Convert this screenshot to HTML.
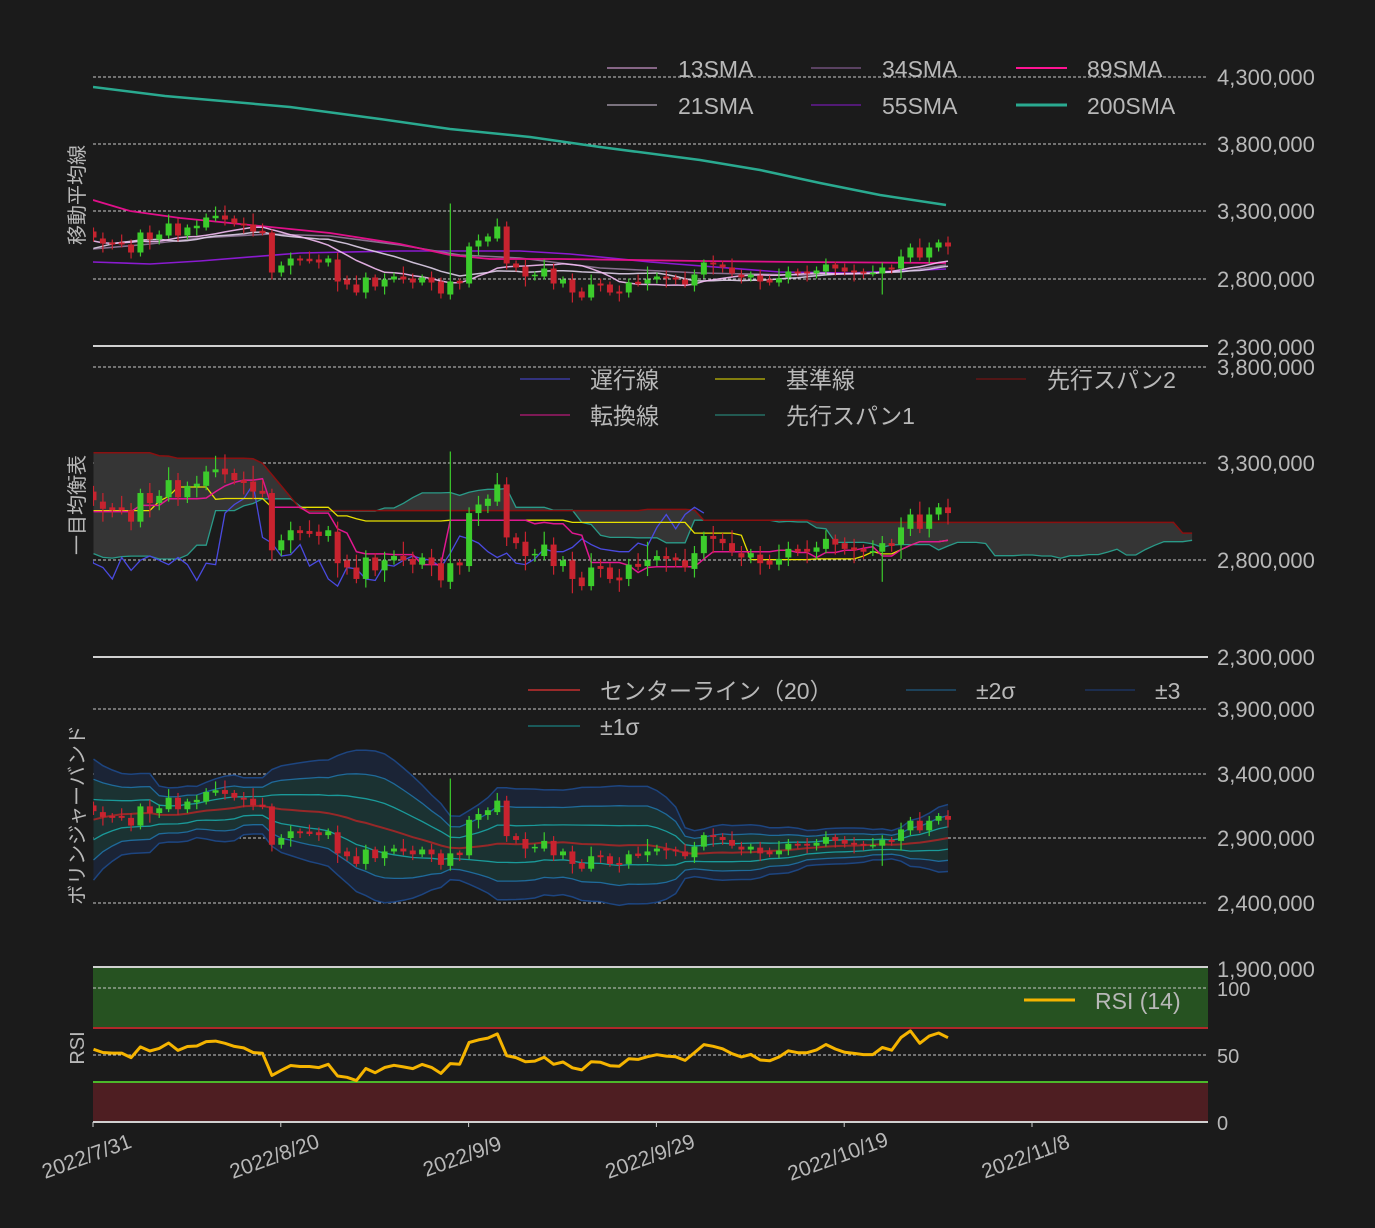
<!DOCTYPE html>
<html><head><meta charset="utf-8">
<style>
html,body{margin:0;padding:0;background:#1b1b1b;}
svg{display:block;}
text{font-family:"Liberation Sans","Noto Sans CJK JP",sans-serif;fill:#b8b8b8;}
</style></head>
<body>
<svg id="s" width="1375" height="1228" xmlns="http://www.w3.org/2000/svg">
<rect width="1375" height="1228" fill="#1b1b1b"/>
<defs>
<clipPath id="c1"><rect x="93" y="40" width="1115" height="306"/></clipPath>
<clipPath id="c2"><rect x="93" y="360" width="1115" height="297"/></clipPath>
<clipPath id="c3"><rect x="93" y="670" width="1115" height="298"/></clipPath>
<clipPath id="c4"><rect x="93" y="967" width="1115" height="155"/></clipPath>
</defs>
<rect x="93" y="967" width="1115" height="61" fill="#265221"/>
<rect x="93" y="1082" width="1115" height="40" fill="#4e1e22"/>
<line x1="93" y1="1028" x2="1208" y2="1028" stroke="#b0282a" stroke-width="2"/>
<line x1="93" y1="1082" x2="1208" y2="1082" stroke="#4cb82a" stroke-width="2"/>
<g id="grid" stroke="#c8c8c8" stroke-width="1" stroke-dasharray="3,2">
<line x1="93" y1="77" x2="1208" y2="77"/><line x1="93" y1="144" x2="1208" y2="144"/><line x1="93" y1="211" x2="1208" y2="211"/><line x1="93" y1="279" x2="1208" y2="279"/>
<line x1="93" y1="367" x2="1208" y2="367"/><line x1="93" y1="463" x2="1208" y2="463"/><line x1="93" y1="560" x2="1208" y2="560"/>
<line x1="93" y1="709" x2="1208" y2="709"/><line x1="93" y1="774" x2="1208" y2="774"/><line x1="93" y1="838" x2="1208" y2="838"/><line x1="93" y1="903" x2="1208" y2="903"/>
<line x1="93" y1="988" x2="1208" y2="988"/><line x1="93" y1="1055" x2="1208" y2="1055"/>
</g>
<g id="plot"></g>
<g stroke="#d0d0d0" stroke-width="2">
<line x1="93" y1="346" x2="1208" y2="346"/>
<line x1="93" y1="657" x2="1208" y2="657"/>
<line x1="93" y1="967" x2="1208" y2="967"/>
<line x1="93" y1="1122" x2="1208" y2="1122"/>
</g>
<g font-size="22">
<text x="1217" y="85">4,300,000</text><text x="1217" y="152">3,800,000</text><text x="1217" y="219">3,300,000</text><text x="1217" y="287">2,800,000</text><text x="1217" y="355">2,300,000</text>
<text x="1217" y="375">3,800,000</text><text x="1217" y="471">3,300,000</text><text x="1217" y="568">2,800,000</text><text x="1217" y="665">2,300,000</text>
<text x="1217" y="717">3,900,000</text><text x="1217" y="782">3,400,000</text><text x="1217" y="846">2,900,000</text><text x="1217" y="911">2,400,000</text><text x="1217" y="977">1,900,000</text>
<text x="1217" y="996" font-size="20">100</text><text x="1217" y="1063" font-size="20">50</text><text x="1217" y="1130" font-size="20">0</text>
</g>
<g font-size="20">
<text transform="translate(84,195) rotate(-90)" text-anchor="middle">移動平均線</text>
<text transform="translate(84,505) rotate(-90)" text-anchor="middle">一目均衡表</text>
<text transform="translate(84,815) rotate(-90)" text-anchor="middle">ボリンジャーバンド</text>
<text transform="translate(84,1048) rotate(-90)" text-anchor="middle">RSI</text>
</g>
<g font-size="23">
<line x1="607" y1="68" x2="657" y2="68" stroke="#f0b0f0"/><text x="678" y="77">13SMA</text>
<line x1="811" y1="68" x2="861" y2="68" stroke="#9a6aa8"/><text x="882" y="77">34SMA</text>
<line x1="1016" y1="68" x2="1067" y2="68" stroke="#ff1493" stroke-width="2"/><text x="1087" y="77">89SMA</text>
<line x1="607" y1="105" x2="657" y2="105" stroke="#d8c8e0"/><text x="678" y="114">21SMA</text>
<line x1="811" y1="105" x2="861" y2="105" stroke="#8a1ad0"/><text x="882" y="114">55SMA</text>
<line x1="1016" y1="105" x2="1067" y2="105" stroke="#2aaa90" stroke-width="3"/><text x="1087" y="114">200SMA</text>

<line x1="520" y1="379" x2="570" y2="379" stroke="#4a4ae0"/><text x="590" y="388">遅行線</text>
<line x1="715" y1="379" x2="765" y2="379" stroke="#e8e000"/><text x="786" y="388">基準線</text>
<line x1="976" y1="379" x2="1026" y2="379" stroke="#8a1010"/><text x="1047" y="388">先行スパン2</text>
<line x1="520" y1="415" x2="570" y2="415" stroke="#e01890"/><text x="590" y="424">転換線</text>
<line x1="715" y1="415" x2="765" y2="415" stroke="#2a9a88"/><text x="786" y="424">先行スパン1</text>

<line x1="528" y1="690" x2="580" y2="690" stroke="#9a2a2a" stroke-width="2"/><text x="600" y="699">センターライン（20）</text>
<line x1="906" y1="690" x2="956" y2="690" stroke="#1f6a9a"/><text x="976" y="699">±2σ</text>
<line x1="1085" y1="690" x2="1135" y2="690" stroke="#1d3f80"/><text x="1155" y="699">±3</text>
<line x1="528" y1="726" x2="580" y2="726" stroke="#1a9a9a"/><text x="600" y="735">±1σ</text>

<line x1="1024" y1="1000" x2="1075" y2="1000" stroke="#f5b400" stroke-width="3"/><text x="1095" y="1009">RSI (14)</text>
</g>
<g id="xt" font-size="21"></g>
</svg>
<script>
(function(){
var NS="http://www.w3.org/2000/svg";
var plot=document.getElementById('plot');
function el(tag,attrs,parent){var e=document.createElementNS(NS,tag);for(var k in attrs)e.setAttribute(k,attrs[k]);(parent||plot).appendChild(e);return e;}
var Y1=[[231,237],[238,243],[242,244],[242,244],[244,252],[252,232],[232,239],[239,234],[235,223],[223,235],[235,227],[227,226],[227,217],[217,216],[215,219],[218,223],[223,225],[224,231],[231,232],[232,272],[272,265],[265,258],[258,260],[259,260],[259,262],[262,258],[259,281],[279,284],[284,292],[292,277],[277,286],[286,279],[279,276],[276,279],[278,282],[282,277],[277,282],[281,293],[294,281],[281,282],[283,246],[246,240],[241,236],[238,226],[226,263],[263,267],[266,276],[275,275],[276,268],[268,283],[283,279],[279,292],[291,297],[297,284],[283,285],[284,292],[291,293],[292,282],[282,283],[283,279],[279,276],[276,278],[277,279],[279,284],[285,274],[274,262],[262,264],[264,267],[267,273],[274,277],[277,274],[275,281],[279,282],[282,278],[277,271],[271,273],[271,273],[273,270],[271,264],[264,268],[267,271],[270,272],[271,273],[273,273],[273,267],[267,269],[268,256],[257,247],[247,257],[257,247],[247,242],[242,246]];
function p1(y){return 2.8e6+(279-y)*500000/67.5;}
var N=Y1.length, O=[],C=[],H=[],L=[];
var wk=[4,6,3,8,5,3,7,4,9,5,3,6,4,10,5,3,6,4,8,3];
for(var i=0;i<N;i++){var o=Y1[i][0],c=Y1[i][1];var hi=Math.min(o,c)-wk[i%20],lo=Math.max(o,c)+wk[(i+7)%20];
 O.push(p1(o));C.push(p1(c));H.push(p1(hi));L.push(p1(lo));}
H[38]=p1(203);L[38]=p1(299);L[51]=p1(302);H[14]=p1(205);H[17]=p1(213);L[84]=p1(294);H[78]=p1(258);H[59]=p1(266);L[53]=p1(300);
var pre=[];
for(var d=-100;d<=-60;d++)pre.push(4.0-(d+100)*0.003+0.05*Math.sin(d*0.7));
for(var d=-59;d<=-50;d++)pre.push(3.88-(d+59)*(1.03/9));
for(var d=-49;d<=-21;d++)pre.push(2.82+0.09*Math.sin(d*0.5));
var last=[2.75,2.70,2.80,2.85,2.95,3.05,3.05,3.40,3.25,3.10,3.00,2.95,3.05,3.15,3.10,3.05,2.95,3.10,3.15,3.15];
pre=pre.concat(last).map(function(v){return v*1e6;});
var P=pre.length;
var cl=pre.concat(C), hh=pre.map(function(v){return v*1.02;}).concat(H), ll=pre.map(function(v){return v*0.98;}).concat(L);
function X(i){return 93.5+i*9.39;}
function sma(n,k){var s=0;for(var j=k-n+1;j<=k;j++)s+=cl[j];return s/n;}
function sd(n,k){var m=sma(n,k),s=0;for(var j=k-n+1;j<=k;j++)s+=(cl[j]-m)*(cl[j]-m);return Math.sqrt(s/(n-1));}
function mid(n,k){var a=-1e12,b=1e12;for(var j=k-n+1;j<=k;j++){a=Math.max(a,hh[j]);b=Math.min(b,ll[j]);}return (a+b)/2;}
function y1(p){return 77+(4.3e6-p)/5e5*67.5;}
function y2(p){return 367+(3.8e6-p)/5e5*96.667;}
function y3(p){return 709+(3.9e6-p)/5e5*64.75;}
function line(pts,attrs,g){var d=pts.map(function(q,j){return (j?'L':'M')+q[0].toFixed(1)+','+q[1].toFixed(1);}).join('');attrs.d=d;attrs.fill='none';return el('path',attrs,g);}
function area(a,b,fill,g){var d=a.map(function(q,j){return (j?'L':'M')+q[0].toFixed(1)+','+q[1].toFixed(1);}).join('');for(var j=b.length-1;j>=0;j--)d+='L'+b[j][0].toFixed(1)+','+b[j][1].toFixed(1);el('path',{d:d+'Z',fill:fill,stroke:'none'},g);}
function candles(g,yf){for(var i=0;i<N;i++){var up=C[i]>=O[i];var col=up?'#3ccc2c':'#c8232f';var x=X(i);
 el('line',{x1:x,x2:x,y1:yf(H[i]),y2:yf(L[i]),stroke:col,'stroke-width':1.2},g);
 var t=yf(Math.max(O[i],C[i])),b=yf(Math.min(O[i],C[i]));if(b-t<1.5){t-=0.75;b+=0.75;}
 el('rect',{x:x-3,y:t,width:6,height:b-t,fill:col},g);}}
var g1=el('g',{'clip-path':'url(#c1)'});
function manual(pts,col,w,op){line(pts,{stroke:col,'stroke-width':w,opacity:op||1},g1);}
manual([[93,87],[165,96],[290,107],[380,119],[450,129],[530,137],[600,147],[700,160],[760,170],[820,183],[880,195],[946,205]],'#2aaa90',2.5);
manual([[93,262],[150,264],[200,261],[300,253],[400,251],[520,251],[570,254],[650,262],[780,272],[850,273],[946,269]],'#8a1ad0',1.6);
manual([[93,249],[150,244],[200,238],[270,234],[330,236],[400,245],[460,255],[520,258],[600,268],[700,273],[800,275],[900,272],[946,265]],'#8a7090',1.6);
manual([[93,200],[130,211],[180,218],[250,225],[330,233],[400,244],[450,255],[490,259],[560,259],[700,261],[800,262],[946,263]],'#e0108a',1.8);
var s13=[],s21=[];for(var i=0;i<N;i++){s13.push([X(i),y1(sma(13,P+i))]);s21.push([X(i),y1(sma(21,P+i))]);}
line(s21,{stroke:'#e0d0ea','stroke-width':1.5,opacity:0.9},g1);
line(s13,{stroke:'#f4bcf4','stroke-width':1.5,opacity:0.9},g1);
candles(g1,y1);
var g2=el('g',{'clip-path':'url(#c2)'});
var sa=[],sb=[],ten=[],kij=[],chi=[];
for(var i=0;i<N+26;i++){var k=P+i-26;if(k<P+N){sa.push([X(i),y2((mid(9,k)+mid(26,k))/2)]);sb.push([X(i),y2(mid(52,k))]);}}
for(var i=0;i<N;i++){ten.push([X(i),y2(mid(9,P+i))]);kij.push([X(i),y2(mid(26,P+i))]);chi.push([X(i-26),y2(C[i])]);}
area(sa,sb,'#353535',g2);
line(sa,{stroke:'#2a9a88','stroke-width':1.3},g2);
line(sb,{stroke:'#8a1010','stroke-width':1.5},g2);
line(chi,{stroke:'#4a4ae0','stroke-width':1.3},g2);
line(kij,{stroke:'#e8e000','stroke-width':1.3},g2);
line(ten,{stroke:'#e01890','stroke-width':1.5},g2);
candles(g2,y2);
var g3=el('g',{'clip-path':'url(#c3)'});
var bl={};[-3,-2,-1,0,1,2,3].forEach(function(m){bl[m]=[];});
for(var i=0;i<N;i++){var k=P+i,m=sma(20,k),s=sd(20,k);for(var q=-3;q<=3;q++)bl[q].push([X(i),y3(m+q*s)]);}
area(bl[3],bl[-3],'#1b2436',g3);
area(bl[2],bl[-2],'#1b3232',g3);
line(bl[3],{stroke:'#1d4580','stroke-width':1.5},g3);line(bl[-3],{stroke:'#1d4580','stroke-width':1.5},g3);
line(bl[2],{stroke:'#1f6a9a','stroke-width':1.3},g3);line(bl[-2],{stroke:'#1f6a9a','stroke-width':1.3},g3);
line(bl[1],{stroke:'#1a9a9a','stroke-width':1.3},g3);line(bl[-1],{stroke:'#1a9a9a','stroke-width':1.3},g3);
line(bl[0],{stroke:'#962828','stroke-width':2},g3);
candles(g3,y3);
// RSI with Wilder smoothing
var g4=el('g',{'clip-path':'url(#c4)'});var rs=[];
var ag=0,ad=0,a=1/14;
for(var k=1;k<cl.length;k++){var d=cl[k]-cl[k-1];ag=ag*(1-a)+(d>0?d:0)*a;ad=ad*(1-a)+(d<0?-d:0)*a;
 if(k>=P){var r=100*ag/(ag+ad);rs.push([X(k-P),1122-r*1.346]);}}
line(rs,{stroke:'#f5b400','stroke-width':3,'stroke-linejoin':'round'},g4);
var xt=document.getElementById('xt');var labs=['2022/7/31','2022/8/20','2022/9/9','2022/9/29','2022/10/19','2022/11/8'];
for(var t=0;t<6;t++){var x=93+t*187.8;el('line',{x1:x,x2:x,y1:1122,y2:1127,stroke:'#d0d0d0'},xt);
 var tx=el('text',{transform:'translate('+(x-4)+',1163) rotate(-20)','text-anchor':'middle'},xt);tx.textContent=labs[t];}
})();
</script>
</body></html>
